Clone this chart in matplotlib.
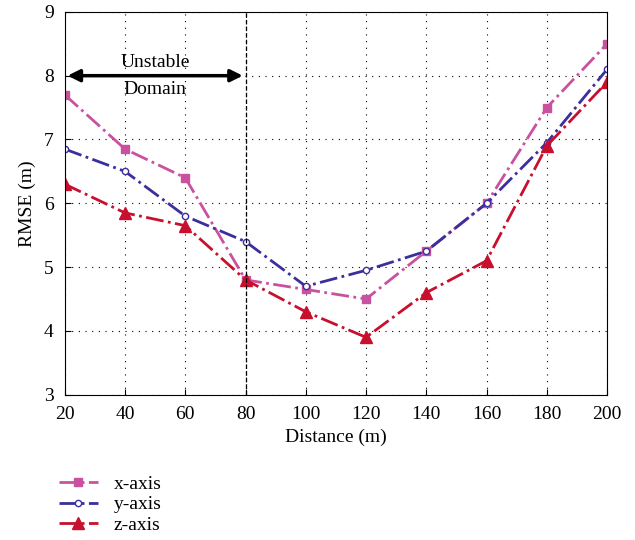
import matplotlib
matplotlib.use("Agg")
import matplotlib.pyplot as plt

plt.rcParams['font.family'] = ['Liberation Serif', 'DejaVu Serif']

distance = [20, 40, 60, 80, 100, 120, 140, 160, 180, 200]
x_axis = [7.7, 6.85, 6.4, 4.8, 4.65, 4.5, 5.25, 6.0, 7.5, 8.5]
y_axis = [6.85, 6.5, 5.8, 5.4, 4.7, 4.95, 5.25, 6.0, 6.95, 8.1]
z_axis = [6.3, 5.85, 5.65, 4.8, 4.3, 3.9, 4.6, 5.1, 6.9, 7.9]

fig = plt.figure(figsize=(6.35, 5.4), dpi=100)
ax = fig.add_axes([0.102, 0.269, 0.854, 0.709])

ax.plot(distance, x_axis, color='#C9519F', linestyle='-.', linewidth=2,
        marker='s', markersize=6, label='x-axis')
ax.plot(distance, y_axis, color='#3A2F9C', linestyle='-.', linewidth=2,
        marker='o', markersize=4.5, markerfacecolor='white', markeredgewidth=1, label='y-axis')
ax.plot(distance, z_axis, color='#C8102E', linestyle='-.', linewidth=2,
        marker='^', markersize=8, label='z-axis')

# unstable region marker
ax.axvline(80, color='black', linestyle='--', linewidth=0.9)
ax.annotate('', xy=(20, 8), xytext=(80, 8),
            arrowprops=dict(arrowstyle='<|-|>', color='black', lw=2.5, mutation_scale=18))
ax.text(50, 8.08, 'Unstable', ha='center', va='bottom', fontsize=14)
ax.text(50, 7.92, 'Domain', ha='center', va='top', fontsize=14)

ax.set_xlim(20, 200)
ax.set_ylim(3, 9)
ax.set_xticks(range(20, 201, 20))
ax.set_yticks(range(3, 10))
ax.grid(True, linestyle=(0, (1, 5)), color='black', linewidth=0.8)
ax.tick_params(direction='in', labelsize=14, length=4, pad=8)
ax.set_xlabel('Distance (m)', fontsize=14, labelpad=4)
ax.set_ylabel('RMSE (m)', fontsize=14, labelpad=6)

ax.legend(loc='upper left', bbox_to_anchor=(-0.025, -0.19), frameon=False,
          fontsize=14, handlelength=2.0, labelspacing=0.15, borderaxespad=0,
          handletextpad=0.8)

fig.savefig('out.png')
